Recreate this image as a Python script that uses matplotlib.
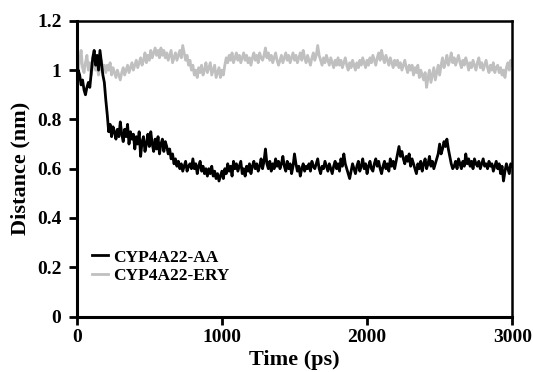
import numpy as np
import matplotlib
matplotlib.use("Agg")
import matplotlib.pyplot as plt

series_names = ["CYP4A22-AA", "CYP4A22-ERY"]

# distance (nm), one value every 10 ps, rows of 100 ps
aa = [0.97, 1.00, 0.98, 0.94, 0.96, 0.92, 0.90, 0.93, 0.95, 0.93,
      0.99, 1.05, 1.08, 1.02, 1.06, 1.00, 1.08, 1.03, 0.98, 0.95,
      0.88, 0.82, 0.75, 0.78, 0.73, 0.77, 0.75, 0.72, 0.76, 0.73,
      0.79, 0.74, 0.71, 0.76, 0.73, 0.78, 0.70, 0.75, 0.72, 0.74,
      0.68, 0.73, 0.70, 0.75, 0.65, 0.71, 0.73, 0.67, 0.70, 0.74,
      0.69, 0.75, 0.70, 0.67, 0.72, 0.68, 0.73, 0.66, 0.70, 0.72,
      0.67, 0.71, 0.69, 0.66, 0.68, 0.64, 0.66, 0.62, 0.64, 0.61,
      0.63, 0.60, 0.62, 0.59, 0.61, 0.63, 0.59, 0.61, 0.62, 0.60,
      0.64, 0.60, 0.62, 0.58, 0.61, 0.63, 0.59, 0.61, 0.58, 0.60,
      0.57, 0.60, 0.58, 0.61, 0.57, 0.59, 0.56, 0.58, 0.55, 0.57,
      0.59, 0.56, 0.60, 0.58, 0.62, 0.59, 0.61, 0.57, 0.63, 0.60,
      0.62, 0.59, 0.61, 0.63, 0.58, 0.60, 0.57, 0.61, 0.59, 0.62,
      0.58, 0.61, 0.63, 0.60, 0.62, 0.59, 0.61, 0.64, 0.60, 0.63,
      0.68, 0.62, 0.60, 0.63, 0.59, 0.62, 0.60, 0.64, 0.61, 0.63,
      0.60, 0.62, 0.65, 0.61, 0.59, 0.63, 0.60, 0.62, 0.58, 0.61,
      0.66, 0.62, 0.59, 0.61, 0.57, 0.60, 0.62, 0.59, 0.61, 0.60,
      0.62, 0.59, 0.63, 0.61, 0.60, 0.62, 0.64, 0.60, 0.58, 0.61,
      0.60, 0.63, 0.61, 0.59, 0.62, 0.60, 0.58, 0.61, 0.63, 0.60,
      0.62, 0.59, 0.64, 0.61, 0.66, 0.62, 0.60, 0.58, 0.56, 0.59,
      0.62, 0.60, 0.58, 0.61, 0.63, 0.59, 0.61, 0.64, 0.60, 0.62,
      0.58, 0.61, 0.63, 0.60, 0.59, 0.62, 0.64, 0.61, 0.63, 0.60,
      0.58, 0.61, 0.63, 0.60, 0.62, 0.59, 0.64, 0.61, 0.63, 0.60,
      0.63, 0.66, 0.69, 0.65, 0.67, 0.64, 0.62, 0.65, 0.63, 0.66,
      0.61, 0.64, 0.62, 0.60, 0.58, 0.62, 0.60, 0.63, 0.59, 0.62,
      0.64, 0.60, 0.62, 0.65, 0.61, 0.63, 0.60, 0.62, 0.64, 0.66,
      0.70, 0.66, 0.68, 0.71, 0.69, 0.72, 0.68, 0.65, 0.62, 0.60,
      0.61, 0.63, 0.60, 0.64, 0.62, 0.60, 0.63, 0.61, 0.66, 0.62,
      0.64, 0.61, 0.63, 0.60, 0.64, 0.62, 0.61, 0.63, 0.60, 0.62,
      0.64, 0.61, 0.62, 0.60, 0.63, 0.61, 0.62, 0.59, 0.61, 0.63,
      0.60, 0.62, 0.58, 0.61, 0.55, 0.59, 0.62, 0.60, 0.58, 0.62,
      0.61]

ery = [0.96, 0.99, 1.04, 1.08, 1.01, 0.99, 1.03, 1.06, 1.00, 1.03,
       0.98, 1.02, 1.05, 1.00, 1.02, 0.98, 1.01, 1.04, 1.00, 1.02,
       0.99, 1.02, 1.00, 1.03, 0.98, 1.01, 0.99, 0.97, 1.00, 0.98,
       0.96, 0.99, 1.01, 0.98, 1.00, 1.02, 0.99, 1.01, 1.03, 1.00,
       1.02, 1.04, 1.01, 1.03, 1.05, 1.02, 1.04, 1.07, 1.03, 1.06,
       1.04, 1.08, 1.05, 1.07, 1.09, 1.06, 1.08, 1.05, 1.09, 1.06,
       1.08, 1.05, 1.07, 1.04, 1.06, 1.08, 1.03, 1.05, 1.07, 1.04,
       1.06, 1.08, 1.05, 1.10, 1.07, 1.04, 1.06, 1.02, 1.04, 1.00,
       1.02, 0.98, 1.00, 0.97, 1.01, 0.99, 1.02, 0.98, 1.00, 1.03,
       0.99, 1.01, 1.03, 0.98, 1.00, 1.02, 0.97, 0.99, 1.01, 0.97,
       1.00, 0.98, 1.02, 1.05, 1.03, 1.06, 1.04, 1.07, 1.03, 1.05,
       1.07, 1.04, 1.06, 1.03, 1.05, 1.07, 1.04, 1.06, 1.03, 1.05,
       1.02, 1.05, 1.07, 1.04, 1.06, 1.03, 1.07, 1.05, 1.04, 1.06,
       1.09, 1.05, 1.07, 1.04, 1.06, 1.03, 1.05, 1.07, 1.04, 1.02,
       1.04, 1.06, 1.03, 1.05, 1.07, 1.04, 1.06, 1.03, 1.05, 1.07,
       1.04, 1.06, 1.03, 1.05, 1.07, 1.04, 1.08, 1.05, 1.03, 1.06,
       1.04, 1.02, 1.05, 1.07, 1.04, 1.06, 1.10, 1.06, 1.04, 1.02,
       1.05, 1.03, 1.06, 1.04, 1.02, 1.05, 1.03, 1.01, 1.04, 1.02,
       1.05, 1.02, 1.04, 1.01, 1.03, 1.05, 1.02, 1.00, 1.03, 1.01,
       1.04, 1.02, 1.00, 1.03, 1.01, 1.04, 1.02, 1.05, 1.03, 1.01,
       1.04, 1.02, 1.05, 1.03, 1.06, 1.04, 1.02, 1.05, 1.07, 1.04,
       1.08, 1.05, 1.03, 1.06, 1.04, 1.02, 1.05, 1.03, 1.01, 1.04,
       1.02, 1.04, 1.01, 1.03, 1.00, 1.02, 1.04, 1.01, 0.99, 1.02,
       1.00, 1.02, 0.98, 1.01, 0.99, 1.02, 0.97, 1.00, 0.98, 0.96,
       0.99, 0.93, 0.97, 1.00, 0.95, 0.98, 1.01, 0.96, 0.99, 1.02,
       0.98, 1.02, 1.05, 1.01, 1.03, 1.06, 1.02, 1.04, 1.07, 1.03,
       1.05, 1.02, 1.04, 1.06, 1.03, 1.01, 1.04, 1.02, 1.05, 1.03,
       1.00, 1.03, 1.01, 1.04, 1.02, 1.00, 1.03, 1.05, 1.01, 1.03,
       1.00, 1.02, 1.04, 1.01, 0.99, 1.02, 1.00, 1.03, 0.99, 1.01,
       1.02, 0.99, 1.01, 0.98, 1.00, 0.97, 1.01, 1.03, 1.00, 1.04,
       1.02]

t_aa = np.linspace(0, 3000, len(aa))
t_ery = np.linspace(0, 3000, len(ery))

xticks = [0, 1000, 2000, 3000]
yticks = [0, 0.2, 0.4, 0.6, 0.8, 1.0, 1.2]
ytick_labels = ["0", "0.2", "0.4", "0.6", "0.8", "1", "1.2"]

plt.rcParams['font.family'] = ['Liberation Serif', 'DejaVu Serif']
plt.rcParams['font.weight'] = 'bold'

fig = plt.figure(figsize=(5.33, 3.72), dpi=100)
ax = fig.add_axes([0.144, 0.149, 0.817, 0.795])

ax.plot(t_ery, ery, color='#c0c0c0', lw=2.0, label=series_names[1], zorder=2)
ax.plot(t_aa, aa, color='black', lw=2.0, label=series_names[0], zorder=3)

ax.set_xlim(0, 3000)
ax.set_ylim(0, 1.2)
ax.set_xticks(xticks)
ax.set_xticklabels([str(v) for v in xticks], fontsize=14, fontweight='bold')
ax.set_yticks(yticks)
ax.set_yticklabels(ytick_labels, fontsize=14, fontweight='bold')
ax.tick_params(axis='x', direction='out', length=6, width=2, pad=3)
ax.tick_params(axis='y', direction='out', length=6, width=2, pad=5)

for s in ['left', 'bottom']:
    ax.spines[s].set_linewidth(2.2)
for s in ['top', 'right']:
    ax.spines[s].set_linewidth(1.8)

ax.set_xlabel("Time (ps)", fontsize=16, fontweight='bold', labelpad=3)
ax.set_ylabel("Distance (nm)", fontsize=16, fontweight='bold', labelpad=5)

handles, labels = ax.get_legend_handles_labels()
leg = ax.legend(handles[::-1], labels[::-1], loc='upper left',
                bbox_to_anchor=(0.0, 0.28), frameon=False,
                handlelength=0.9, handletextpad=0.3, labelspacing=0.15,
                prop={'size': 12.5, 'weight': 'bold'})

fig.savefig("out.png", dpi=100)
